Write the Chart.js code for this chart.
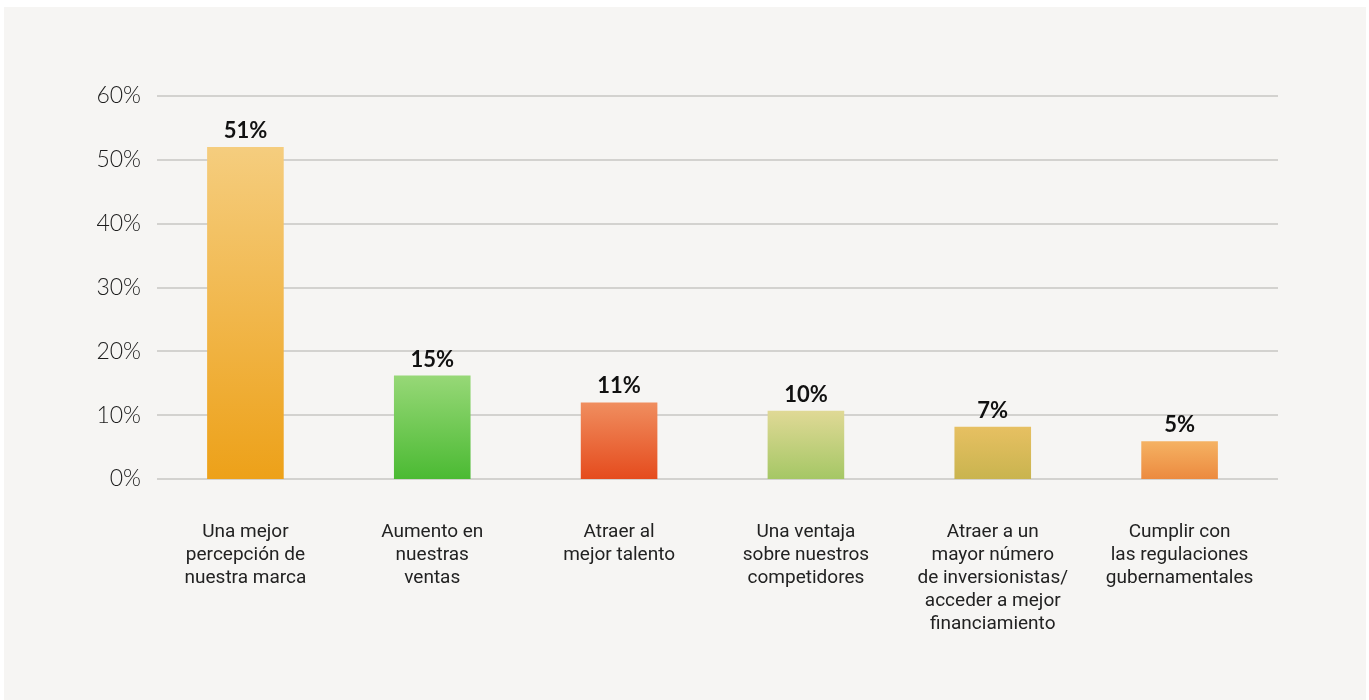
<!DOCTYPE html>
<html>
<head>
<meta charset="utf-8">
<script src="https://cdn.jsdelivr.net/npm/chart.js@4.4.1/dist/chart.umd.min.js"></script>
<style>
  html, body { margin: 0; padding: 0; background: #ffffff; }
  #wrap { width: 1369px; height: 700px; position: relative; }
</style>
</head>
<body>
<div id="wrap"><canvas id="myBarChart"></canvas></div>
<script>
const categories = [
  ["Una mejor", "percepción de", "nuestra marca"],
  ["Aumento en", "nuestras", "ventas"],
  ["Atraer al", "mejor talento"],
  ["Una ventaja", "sobre nuestros", "competidores"],
  ["Atraer a un", "mayor número", "de inversionistas/", "acceder a mejor", "financiamiento"],
  ["Cumplir con", "las regulaciones", "gubernamentales"]
];
// bar heights as drawn in the picture
const barValues = [52, 16.2, 12, 10.7, 8.2, 5.9];
// value labels as printed above the bars
const valueLabels = ["51%", "15%", "11%", "10%", "7%", "5%"];
const yTicks = [0, 10, 20, 30, 40, 50, 60];

const topColors = ["#f5cd7e", "#97d877", "#f08e5f", "#e0d996", "#e7c062", "#f5b263"];
const bottomColors = ["#eda119", "#4bba33", "#e54b1d", "#a5c765", "#c9b44f", "#ec8a3f"];

// panel background (light grey, white border left/top)
const panelBg = {
  id: "panelBg",
  beforeDraw(chart) {
    const c = chart.ctx;
    c.save();
    c.fillStyle = "#f6f5f3";
    c.fillRect(4, 7, 1362, 693);
    c.restore();
  }
};

// horizontal grid lines, a bit to the right of the chart area like the original
const gridLines = {
  id: "gridLines",
  beforeDatasetsDraw(chart) {
    const c = chart.ctx;
    const y = chart.scales.y;
    const area = chart.chartArea;
    c.save();
    c.strokeStyle = "#d3d2cf";
    c.lineWidth = 2;
    yTicks.forEach(function (v) {
      const py = Math.round(y.getPixelForValue(v));
      c.beginPath();
      c.moveTo(area.left + 5, py);
      c.lineTo(area.right + 5, py);
      c.stroke();
    });
    c.restore();
  }
};

// value labels on top of the bars
const barLabels = {
  id: "barLabels",
  afterDatasetsDraw(chart) {
    const c = chart.ctx;
    const meta = chart.getDatasetMeta(0);
    c.save();
    c.font = "bold 22px Lato, sans-serif";
    c.fillStyle = "#111111";
    c.textAlign = "center";
    c.textBaseline = "alphabetic";
    meta.data.forEach(function (bar, i) {
      c.fillText(valueLabels[i], bar.x, bar.y - 9);
    });
    c.restore();
  }
};

const ctx = document.getElementById("myBarChart").getContext("2d");

new Chart(ctx, {
  type: "bar",
  data: {
    labels: categories,
    datasets: [
      {
        data: barValues,
        backgroundColor: function (context) {
          const chart = context.chart;
          const i = context.dataIndex;
          if (!chart.chartArea || !chart.scales.y) return bottomColors[i];
          const y0 = chart.scales.y.getPixelForValue(0);
          const y1 = chart.scales.y.getPixelForValue(barValues[i]);
          const g = chart.ctx.createLinearGradient(0, y1, 0, y0);
          g.addColorStop(0, topColors[i]);
          g.addColorStop(1, bottomColors[i]);
          return g;
        },
        borderWidth: 0,
        barPercentage: 0.41,
        categoryPercentage: 1.0
      }
    ]
  },
  options: {
    responsive: true,
    maintainAspectRatio: false,
    animation: false,
    layout: { padding: { top: 96, right: 96, bottom: 0, left: 0 } },
    plugins: {
      legend: { display: false },
      tooltip: { enabled: false }
    },
    scales: {
      y: {
        min: 0,
        max: 60,
        afterFit: function (scale) { scale.width = 152; },
        afterBuildTicks: function (scale) {
          scale.ticks = yTicks.map(function (v) { return { value: v }; });
        },
        border: { display: false },
        grid: { display: false, drawTicks: false },
        ticks: {
          padding: 11,
          color: "#1c1c1c",
          font: { family: "Lato, sans-serif", size: 23, weight: "300" },
          callback: function (v) { return v + "%"; }
        }
      },
      x: {
        afterFit: function (scale) { scale.height = 221; },
        border: { display: false },
        grid: { display: false, drawTicks: false },
        ticks: {
          padding: 42,
          maxRotation: 0,
          autoSkip: false,
          color: "#222222",
          font: { family: "Roboto, sans-serif", size: 19, lineHeight: 1.21 }
        }
      }
    }
  },
  plugins: [panelBg, gridLines, barLabels]
});
</script>
</body>
</html>
